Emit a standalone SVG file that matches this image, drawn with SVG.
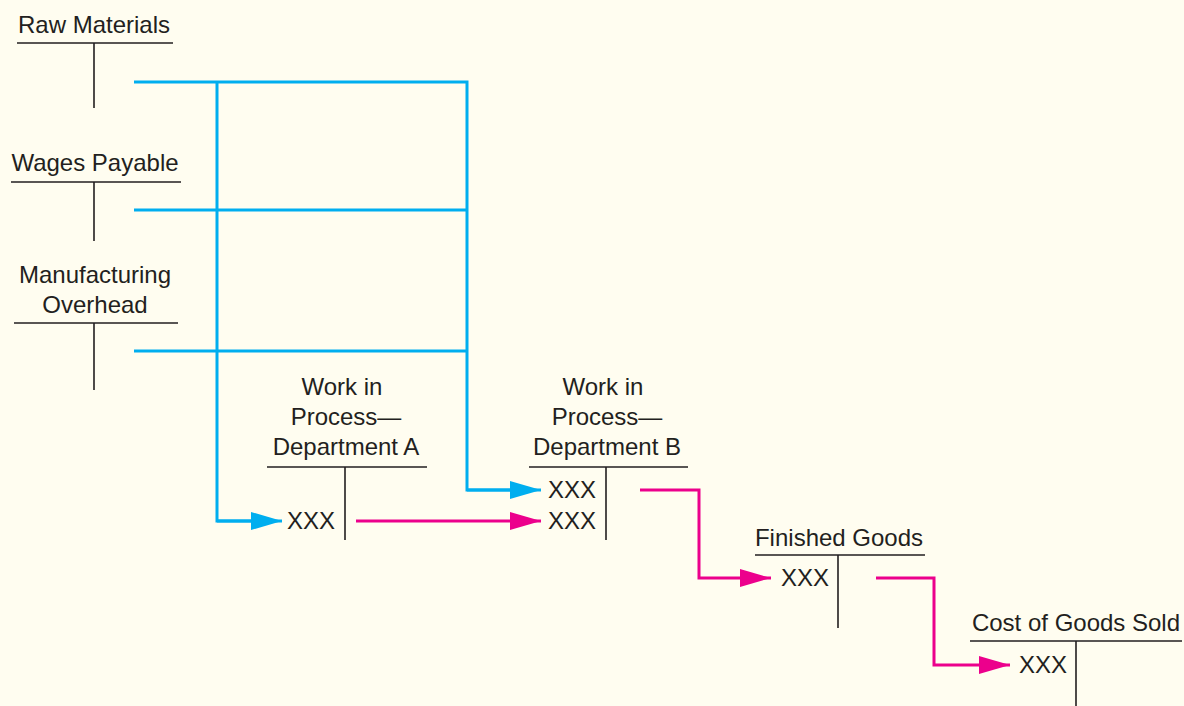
<svg xmlns="http://www.w3.org/2000/svg" width="1184" height="706" viewBox="0 0 1184 706">
<defs>
<style>
.t{font-family:"Liberation Sans",Arial,Helvetica,sans-serif;font-size:24px;fill:#231f20}
.m{text-anchor:middle}
.e{text-anchor:end}
.k{stroke:#231f20;stroke-width:1.6;fill:none}
.b{stroke:#00aeef;stroke-width:3;fill:none}
.p{stroke:#ec008c;stroke-width:3;fill:none}
</style>
<marker id="ab" markerUnits="userSpaceOnUse" markerWidth="32" markerHeight="18" refX="31" refY="9" orient="auto">
<path d="M0,0 L31,9 L0,18 Z" fill="#00aeef"/>
</marker>
<marker id="ap" markerUnits="userSpaceOnUse" markerWidth="32" markerHeight="18" refX="31" refY="9" orient="auto">
<path d="M0,0 L31,9 L0,18 Z" fill="#ec008c"/>
</marker>
</defs>
<rect width="1184" height="706" fill="#fffdf0"/>

<g id="connectors">
<path class="b" d="M134,82 H467 V490 H510"/>
<path class="b" d="M217,82 V521 H252"/>
<path class="b" d="M134,210 H467"/>
<path class="b" d="M134,351 H467"/>
<path class="b" d="M467,490 H541" marker-end="url(#ab)"/>
<path class="b" d="M217,521 H282" marker-end="url(#ab)"/>
<path class="p" d="M356,521 H541" marker-end="url(#ap)"/>
<path class="p" d="M640,490 H699 V578 H771" marker-end="url(#ap)"/>
<path class="p" d="M876,578 H934 V665 H1010" marker-end="url(#ap)"/>
</g>

<g id="raw-materials">
<text class="t m" x="94" y="33">Raw Materials</text>
<path class="k" d="M17,43 H173 M94,43 V108"/>
</g>

<g id="wages-payable">
<text class="t m" x="95" y="171">Wages Payable</text>
<path class="k" d="M11,182 H181 M94,182 V241"/>
</g>

<g id="manufacturing-overhead">
<text class="t m" x="95" y="283">Manufacturing</text>
<text class="t m" x="95" y="313">Overhead</text>
<path class="k" d="M14,323 H178 M94,323 V390"/>
</g>

<g id="wip-a">
<text class="t m" x="342" y="395">Work in</text>
<text class="t m" x="346" y="425">Process—</text>
<text class="t m" x="346" y="455">Department A</text>
<path class="k" d="M267,467 H427 M345,467 V540"/>
<text class="t e" x="335" y="529">XXX</text>
</g>

<g id="wip-b">
<text class="t m" x="603" y="395">Work in</text>
<text class="t m" x="607" y="425">Process—</text>
<text class="t m" x="607" y="455">Department B</text>
<path class="k" d="M529,467 H688 M606,467 V540"/>
<text class="t e" x="596" y="498">XXX</text>
<text class="t e" x="596" y="529">XXX</text>
</g>

<g id="finished-goods">
<text class="t m" x="839" y="546">Finished Goods</text>
<path class="k" d="M755,555 H925 M838,555 V628"/>
<text class="t e" x="829" y="586">XXX</text>
</g>

<g id="cogs">
<text class="t m" x="1076" y="631">Cost of Goods Sold</text>
<path class="k" d="M970,641 H1182 M1076,641 V706"/>
<text class="t e" x="1067" y="673">XXX</text>
</g>
</svg>
